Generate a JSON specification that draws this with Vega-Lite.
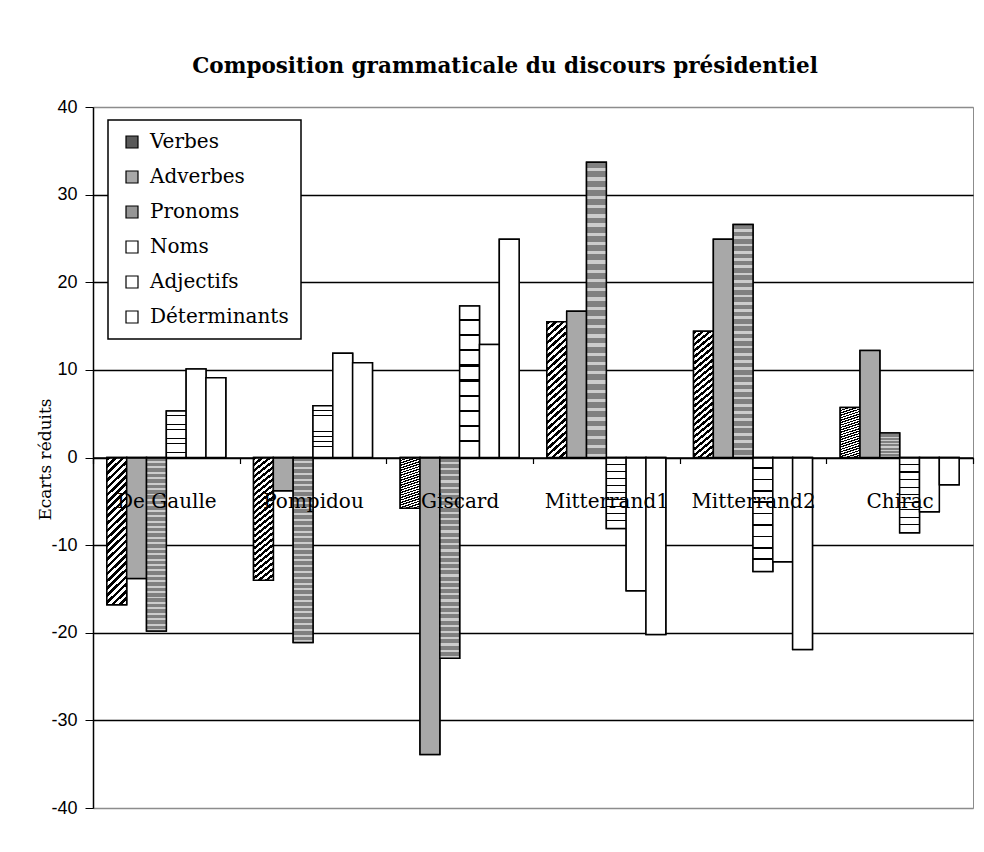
{
  "$schema": "https://vega.github.io/schema/vega-lite/v6.json",
  "width": 880,
  "height": 701,
  "autosize": "none",
  "padding": {"left": 93, "top": 107, "right": 11, "bottom": 44},
  "background": "white",
  "title": {
    "text": "Composition grammaticale du discours présidentiel",
    "font": "DejaVu Serif",
    "fontSize": 21.5,
    "fontWeight": "bold",
    "color": "black",
    "anchor": "middle",
    "offset": 21,
    "dx": -28
  },
  "data": {
    "values": [
      {"president": "De Gaulle", "categorie": "Verbes", "ecart": -16.8},
      {"president": "De Gaulle", "categorie": "Adverbes", "ecart": -13.8},
      {"president": "De Gaulle", "categorie": "Pronoms", "ecart": -19.8},
      {"president": "De Gaulle", "categorie": "Noms", "ecart": 5.3},
      {"president": "De Gaulle", "categorie": "Adjectifs", "ecart": 10.1},
      {"president": "De Gaulle", "categorie": "Déterminants", "ecart": 9.1},
      {"president": "Pompidou", "categorie": "Verbes", "ecart": -14.0},
      {"president": "Pompidou", "categorie": "Adverbes", "ecart": -3.8},
      {"president": "Pompidou", "categorie": "Pronoms", "ecart": -21.1},
      {"president": "Pompidou", "categorie": "Noms", "ecart": 5.9},
      {"president": "Pompidou", "categorie": "Adjectifs", "ecart": 11.9},
      {"president": "Pompidou", "categorie": "Déterminants", "ecart": 10.8},
      {"president": "Giscard", "categorie": "Verbes", "ecart": -5.8},
      {"president": "Giscard", "categorie": "Adverbes", "ecart": -33.9},
      {"president": "Giscard", "categorie": "Pronoms", "ecart": -22.9},
      {"president": "Giscard", "categorie": "Noms", "ecart": 17.3},
      {"president": "Giscard", "categorie": "Adjectifs", "ecart": 12.9},
      {"president": "Giscard", "categorie": "Déterminants", "ecart": 24.9},
      {"president": "Mitterrand1", "categorie": "Verbes", "ecart": 15.5},
      {"president": "Mitterrand1", "categorie": "Adverbes", "ecart": 16.7},
      {"president": "Mitterrand1", "categorie": "Pronoms", "ecart": 33.7},
      {"president": "Mitterrand1", "categorie": "Noms", "ecart": -8.1},
      {"president": "Mitterrand1", "categorie": "Adjectifs", "ecart": -15.2},
      {"president": "Mitterrand1", "categorie": "Déterminants", "ecart": -20.2},
      {"president": "Mitterrand2", "categorie": "Verbes", "ecart": 14.4},
      {"president": "Mitterrand2", "categorie": "Adverbes", "ecart": 24.9},
      {"president": "Mitterrand2", "categorie": "Pronoms", "ecart": 26.6},
      {"president": "Mitterrand2", "categorie": "Noms", "ecart": -13.0},
      {"president": "Mitterrand2", "categorie": "Adjectifs", "ecart": -11.9},
      {"president": "Mitterrand2", "categorie": "Déterminants", "ecart": -21.9},
      {"president": "Chirac", "categorie": "Verbes", "ecart": 5.7},
      {"president": "Chirac", "categorie": "Adverbes", "ecart": 12.2},
      {"president": "Chirac", "categorie": "Pronoms", "ecart": 2.8},
      {"president": "Chirac", "categorie": "Noms", "ecart": -8.6},
      {"president": "Chirac", "categorie": "Adjectifs", "ecart": -6.2},
      {"president": "Chirac", "categorie": "Déterminants", "ecart": -3.1}
    ]
  },
  "encoding": {
    "x": {
      "field": "president",
      "type": "nominal",
      "sort": ["De Gaulle", "Pompidou", "Giscard", "Mitterrand1", "Mitterrand2", "Chirac"],
      "scale": {"paddingInner": 0, "paddingOuter": 0},
      "axis": {
        "title": null,
        "orient": "bottom",
        "offset": -350.5,
        "zindex": 1,
        "grid": false,
        "domainColor": "black",
        "domainWidth": 1.5,
        "tickBand": "extent",
        "tickColor": "black",
        "tickSize": 6,
        "tickWidth": 1.2,
        "labelFont": "DejaVu Serif",
        "labelFontSize": 20,
        "labelColor": "black",
        "labelAngle": 0,
        "labelBaseline": "middle",
        "labelPadding": 38
      }
    },
    "xOffset": {
      "field": "categorie",
      "type": "nominal",
      "sort": ["Verbes", "Adverbes", "Pronoms", "Noms", "Adjectifs", "Déterminants"],
      "scale": {"paddingInner": 0, "paddingOuter": 0.7}
    },
    "y": {
      "field": "ecart",
      "type": "quantitative",
      "scale": {"domain": [-40, 40], "nice": false},
      "axis": {
        "title": "Ecarts réduits",
        "values": [-40, -30, -20, -10, 0, 10, 20, 30, 40],
        "labelExpr": "'' + datum.value",
        "grid": true,
        "gridColor": {"condition": {"test": "abs(datum.value) === 40", "value": "#8c8c8c"}, "value": "black"},
        "gridWidth": 1.3,
        "domainColor": "black",
        "domainWidth": 1.5,
        "tickColor": "black",
        "tickSize": 8,
        "labelFont": "Liberation Sans",
        "labelFontSize": 18,
        "labelColor": "black",
        "labelPadding": 8,
        "titleFont": "DejaVu Serif",
        "titleFontSize": 17,
        "titleFontWeight": "normal",
        "titleColor": "black",
        "titleAngle": -90,
        "titleX": -48,
        "titleY": 352,
        "titleAlign": "center",
        "titleBaseline": "middle"
      }
    }
  },
  "layer": [
    {
      "mark": {"type": "bar", "stroke": "black", "strokeWidth": 1.5},
      "encoding": {
        "fill": {
          "field": "categorie",
          "type": "nominal",
          "scale": {
            "domain": ["Verbes", "Adverbes", "Pronoms", "Noms", "Adjectifs", "Déterminants"],
            "range": ["#5a5a5a", "#a8a8a8", "#969696", "#ffffff", "#ffffff", "#ffffff"]
          },
          "legend": {
            "title": null,
            "orient": "none",
            "legendX": 15,
            "legendY": 13,
            "fillColor": "white",
            "strokeColor": "black",
            "padding": 12,
            "symbolType": "square",
            "symbolSize": 144,
            "symbolStrokeColor": "black",
            "symbolStrokeWidth": 1.2,
            "symbolOffset": 2,
            "labelFont": "DejaVu Serif",
            "labelFontSize": 20,
            "labelColor": "black",
            "labelOffset": 8,
            "rowPadding": 15,
            "encode": {
              "symbols": {
                "update": {
                  "stroke": {"value": "black"},
                  "strokeWidth": {"value": 1.2},
                  "fill": {
                    "condition": [
                      {"test": "datum.value === 'Verbes'", "value": {"gradient": "linear", "x1": 0, "y1": 0, "x2": 1, "y2": 1, "stops": [
                        {"offset": 0, "color": "#ffffff"}, {"offset": 0.125, "color": "#ffffff"}, {"offset": 0.125, "color": "#000000"}, {"offset": 0.25, "color": "#000000"},
                        {"offset": 0.25, "color": "#ffffff"}, {"offset": 0.375, "color": "#ffffff"}, {"offset": 0.375, "color": "#000000"}, {"offset": 0.5, "color": "#000000"},
                        {"offset": 0.5, "color": "#ffffff"}, {"offset": 0.625, "color": "#ffffff"}, {"offset": 0.625, "color": "#000000"}, {"offset": 0.75, "color": "#000000"},
                        {"offset": 0.75, "color": "#ffffff"}, {"offset": 0.875, "color": "#ffffff"}, {"offset": 0.875, "color": "#000000"}, {"offset": 1, "color": "#000000"}
                      ]}},
                      {"test": "datum.value === 'Noms'", "value": {"gradient": "linear", "x1": 0, "y1": 0, "x2": 0, "y2": 1, "stops": [
                        {"offset": 0, "color": "#ffffff"}, {"offset": 0.44, "color": "#ffffff"}, {"offset": 0.44, "color": "#000000"}, {"offset": 0.56, "color": "#000000"},
                        {"offset": 0.56, "color": "#ffffff"}, {"offset": 1, "color": "#ffffff"}
                      ]}},
                      {"test": "datum.value === 'Pronoms'", "value": {"gradient": "linear", "x1": 0, "y1": 0, "x2": 0, "y2": 1, "stops": [
                        {"offset": 0, "color": "#808080"}, {"offset": 0.2, "color": "#808080"}, {"offset": 0.2, "color": "#d0d0d0"}, {"offset": 0.33, "color": "#d0d0d0"},
                        {"offset": 0.33, "color": "#808080"}, {"offset": 0.53, "color": "#808080"}, {"offset": 0.53, "color": "#d0d0d0"}, {"offset": 0.66, "color": "#d0d0d0"},
                        {"offset": 0.66, "color": "#808080"}, {"offset": 0.86, "color": "#808080"}, {"offset": 0.86, "color": "#d0d0d0"}, {"offset": 1, "color": "#d0d0d0"}
                      ]}},
                      {"test": "datum.value === 'Adverbes'", "value": "#a8a8a8"}
                    ],
                    "value": "#ffffff"
                  }
                }
              }
            }
          }
        }
      }
    },
    {
      "mark": {"type": "bar", "stroke": "black", "strokeWidth": 1.5},
      "encoding": {
        "fill": {
          "condition": [
            {"test": "datum.categorie === 'Verbes'", "value": {"gradient": "linear", "x1": 0, "y1": 0, "x2": 0.15, "y2": 1.15, "stops": [
              {"offset": 0, "color": "#000000"}, {"offset": 0.0208, "color": "#000000"}, {"offset": 0.0208, "color": "#ffffff"}, {"offset": 0.0417, "color": "#ffffff"},
              {"offset": 0.0417, "color": "#000000"}, {"offset": 0.0625, "color": "#000000"}, {"offset": 0.0625, "color": "#ffffff"}, {"offset": 0.0833, "color": "#ffffff"},
              {"offset": 0.0833, "color": "#000000"}, {"offset": 0.1042, "color": "#000000"}, {"offset": 0.1042, "color": "#ffffff"}, {"offset": 0.125, "color": "#ffffff"},
              {"offset": 0.125, "color": "#000000"}, {"offset": 0.1458, "color": "#000000"}, {"offset": 0.1458, "color": "#ffffff"}, {"offset": 0.1667, "color": "#ffffff"},
              {"offset": 0.1667, "color": "#000000"}, {"offset": 0.1875, "color": "#000000"}, {"offset": 0.1875, "color": "#ffffff"}, {"offset": 0.2083, "color": "#ffffff"},
              {"offset": 0.2083, "color": "#000000"}, {"offset": 0.2292, "color": "#000000"}, {"offset": 0.2292, "color": "#ffffff"}, {"offset": 0.25, "color": "#ffffff"},
              {"offset": 0.25, "color": "#000000"}, {"offset": 0.2708, "color": "#000000"}, {"offset": 0.2708, "color": "#ffffff"}, {"offset": 0.2917, "color": "#ffffff"},
              {"offset": 0.2917, "color": "#000000"}, {"offset": 0.3125, "color": "#000000"}, {"offset": 0.3125, "color": "#ffffff"}, {"offset": 0.3333, "color": "#ffffff"},
              {"offset": 0.3333, "color": "#000000"}, {"offset": 0.3542, "color": "#000000"}, {"offset": 0.3542, "color": "#ffffff"}, {"offset": 0.375, "color": "#ffffff"},
              {"offset": 0.375, "color": "#000000"}, {"offset": 0.3958, "color": "#000000"}, {"offset": 0.3958, "color": "#ffffff"}, {"offset": 0.4167, "color": "#ffffff"},
              {"offset": 0.4167, "color": "#000000"}, {"offset": 0.4375, "color": "#000000"}, {"offset": 0.4375, "color": "#ffffff"}, {"offset": 0.4583, "color": "#ffffff"},
              {"offset": 0.4583, "color": "#000000"}, {"offset": 0.4792, "color": "#000000"}, {"offset": 0.4792, "color": "#ffffff"}, {"offset": 0.5, "color": "#ffffff"},
              {"offset": 0.5, "color": "#000000"}, {"offset": 0.5208, "color": "#000000"}, {"offset": 0.5208, "color": "#ffffff"}, {"offset": 0.5417, "color": "#ffffff"},
              {"offset": 0.5417, "color": "#000000"}, {"offset": 0.5625, "color": "#000000"}, {"offset": 0.5625, "color": "#ffffff"}, {"offset": 0.5833, "color": "#ffffff"},
              {"offset": 0.5833, "color": "#000000"}, {"offset": 0.6042, "color": "#000000"}, {"offset": 0.6042, "color": "#ffffff"}, {"offset": 0.625, "color": "#ffffff"},
              {"offset": 0.625, "color": "#000000"}, {"offset": 0.6458, "color": "#000000"}, {"offset": 0.6458, "color": "#ffffff"}, {"offset": 0.6667, "color": "#ffffff"},
              {"offset": 0.6667, "color": "#000000"}, {"offset": 0.6875, "color": "#000000"}, {"offset": 0.6875, "color": "#ffffff"}, {"offset": 0.7083, "color": "#ffffff"},
              {"offset": 0.7083, "color": "#000000"}, {"offset": 0.7292, "color": "#000000"}, {"offset": 0.7292, "color": "#ffffff"}, {"offset": 0.75, "color": "#ffffff"},
              {"offset": 0.75, "color": "#000000"}, {"offset": 0.7708, "color": "#000000"}, {"offset": 0.7708, "color": "#ffffff"}, {"offset": 0.7917, "color": "#ffffff"},
              {"offset": 0.7917, "color": "#000000"}, {"offset": 0.8125, "color": "#000000"}, {"offset": 0.8125, "color": "#ffffff"}, {"offset": 0.8333, "color": "#ffffff"},
              {"offset": 0.8333, "color": "#000000"}, {"offset": 0.8542, "color": "#000000"}, {"offset": 0.8542, "color": "#ffffff"}, {"offset": 0.875, "color": "#ffffff"},
              {"offset": 0.875, "color": "#000000"}, {"offset": 0.8958, "color": "#000000"}, {"offset": 0.8958, "color": "#ffffff"}, {"offset": 0.9167, "color": "#ffffff"},
              {"offset": 0.9167, "color": "#000000"}, {"offset": 0.9375, "color": "#000000"}, {"offset": 0.9375, "color": "#ffffff"}, {"offset": 0.9583, "color": "#ffffff"},
              {"offset": 0.9583, "color": "#000000"}, {"offset": 0.9792, "color": "#000000"}, {"offset": 0.9792, "color": "#ffffff"}, {"offset": 1, "color": "#ffffff"}
            ]}},
            {"test": "datum.categorie === 'Pronoms'", "value": {"gradient": "linear", "x1": 0, "y1": 0, "x2": 0, "y2": 1, "stops": [
              {"offset": 0, "color": "#808080"}, {"offset": 0.02, "color": "#808080"}, {"offset": 0.02, "color": "#cccccc"}, {"offset": 0.03125, "color": "#cccccc"},
              {"offset": 0.03125, "color": "#808080"}, {"offset": 0.05125, "color": "#808080"}, {"offset": 0.05125, "color": "#cccccc"}, {"offset": 0.0625, "color": "#cccccc"},
              {"offset": 0.0625, "color": "#808080"}, {"offset": 0.0825, "color": "#808080"}, {"offset": 0.0825, "color": "#cccccc"}, {"offset": 0.09375, "color": "#cccccc"},
              {"offset": 0.09375, "color": "#808080"}, {"offset": 0.11375, "color": "#808080"}, {"offset": 0.11375, "color": "#cccccc"}, {"offset": 0.125, "color": "#cccccc"},
              {"offset": 0.125, "color": "#808080"}, {"offset": 0.145, "color": "#808080"}, {"offset": 0.145, "color": "#cccccc"}, {"offset": 0.15625, "color": "#cccccc"},
              {"offset": 0.15625, "color": "#808080"}, {"offset": 0.17625, "color": "#808080"}, {"offset": 0.17625, "color": "#cccccc"}, {"offset": 0.1875, "color": "#cccccc"},
              {"offset": 0.1875, "color": "#808080"}, {"offset": 0.2075, "color": "#808080"}, {"offset": 0.2075, "color": "#cccccc"}, {"offset": 0.21875, "color": "#cccccc"},
              {"offset": 0.21875, "color": "#808080"}, {"offset": 0.23875, "color": "#808080"}, {"offset": 0.23875, "color": "#cccccc"}, {"offset": 0.25, "color": "#cccccc"},
              {"offset": 0.25, "color": "#808080"}, {"offset": 0.27, "color": "#808080"}, {"offset": 0.27, "color": "#cccccc"}, {"offset": 0.28125, "color": "#cccccc"},
              {"offset": 0.28125, "color": "#808080"}, {"offset": 0.30125, "color": "#808080"}, {"offset": 0.30125, "color": "#cccccc"}, {"offset": 0.3125, "color": "#cccccc"},
              {"offset": 0.3125, "color": "#808080"}, {"offset": 0.3325, "color": "#808080"}, {"offset": 0.3325, "color": "#cccccc"}, {"offset": 0.34375, "color": "#cccccc"},
              {"offset": 0.34375, "color": "#808080"}, {"offset": 0.36375, "color": "#808080"}, {"offset": 0.36375, "color": "#cccccc"}, {"offset": 0.375, "color": "#cccccc"},
              {"offset": 0.375, "color": "#808080"}, {"offset": 0.395, "color": "#808080"}, {"offset": 0.395, "color": "#cccccc"}, {"offset": 0.40625, "color": "#cccccc"},
              {"offset": 0.40625, "color": "#808080"}, {"offset": 0.42625, "color": "#808080"}, {"offset": 0.42625, "color": "#cccccc"}, {"offset": 0.4375, "color": "#cccccc"},
              {"offset": 0.4375, "color": "#808080"}, {"offset": 0.4575, "color": "#808080"}, {"offset": 0.4575, "color": "#cccccc"}, {"offset": 0.46875, "color": "#cccccc"},
              {"offset": 0.46875, "color": "#808080"}, {"offset": 0.48875, "color": "#808080"}, {"offset": 0.48875, "color": "#cccccc"}, {"offset": 0.5, "color": "#cccccc"},
              {"offset": 0.5, "color": "#808080"}, {"offset": 0.52, "color": "#808080"}, {"offset": 0.52, "color": "#cccccc"}, {"offset": 0.53125, "color": "#cccccc"},
              {"offset": 0.53125, "color": "#808080"}, {"offset": 0.55125, "color": "#808080"}, {"offset": 0.55125, "color": "#cccccc"}, {"offset": 0.5625, "color": "#cccccc"},
              {"offset": 0.5625, "color": "#808080"}, {"offset": 0.5825, "color": "#808080"}, {"offset": 0.5825, "color": "#cccccc"}, {"offset": 0.59375, "color": "#cccccc"},
              {"offset": 0.59375, "color": "#808080"}, {"offset": 0.61375, "color": "#808080"}, {"offset": 0.61375, "color": "#cccccc"}, {"offset": 0.625, "color": "#cccccc"},
              {"offset": 0.625, "color": "#808080"}, {"offset": 0.645, "color": "#808080"}, {"offset": 0.645, "color": "#cccccc"}, {"offset": 0.65625, "color": "#cccccc"},
              {"offset": 0.65625, "color": "#808080"}, {"offset": 0.67625, "color": "#808080"}, {"offset": 0.67625, "color": "#cccccc"}, {"offset": 0.6875, "color": "#cccccc"},
              {"offset": 0.6875, "color": "#808080"}, {"offset": 0.7075, "color": "#808080"}, {"offset": 0.7075, "color": "#cccccc"}, {"offset": 0.71875, "color": "#cccccc"},
              {"offset": 0.71875, "color": "#808080"}, {"offset": 0.73875, "color": "#808080"}, {"offset": 0.73875, "color": "#cccccc"}, {"offset": 0.75, "color": "#cccccc"},
              {"offset": 0.75, "color": "#808080"}, {"offset": 0.77, "color": "#808080"}, {"offset": 0.77, "color": "#cccccc"}, {"offset": 0.78125, "color": "#cccccc"},
              {"offset": 0.78125, "color": "#808080"}, {"offset": 0.80125, "color": "#808080"}, {"offset": 0.80125, "color": "#cccccc"}, {"offset": 0.8125, "color": "#cccccc"},
              {"offset": 0.8125, "color": "#808080"}, {"offset": 0.8325, "color": "#808080"}, {"offset": 0.8325, "color": "#cccccc"}, {"offset": 0.84375, "color": "#cccccc"},
              {"offset": 0.84375, "color": "#808080"}, {"offset": 0.86375, "color": "#808080"}, {"offset": 0.86375, "color": "#cccccc"}, {"offset": 0.875, "color": "#cccccc"},
              {"offset": 0.875, "color": "#808080"}, {"offset": 0.895, "color": "#808080"}, {"offset": 0.895, "color": "#cccccc"}, {"offset": 0.90625, "color": "#cccccc"},
              {"offset": 0.90625, "color": "#808080"}, {"offset": 0.92625, "color": "#808080"}, {"offset": 0.92625, "color": "#cccccc"}, {"offset": 0.9375, "color": "#cccccc"},
              {"offset": 0.9375, "color": "#808080"}, {"offset": 0.9575, "color": "#808080"}, {"offset": 0.9575, "color": "#cccccc"}, {"offset": 0.96875, "color": "#cccccc"},
              {"offset": 0.96875, "color": "#808080"}, {"offset": 0.98875, "color": "#808080"}, {"offset": 0.98875, "color": "#cccccc"}, {"offset": 1, "color": "#cccccc"}
            ]}},
            {"test": "datum.categorie === 'Noms'", "value": {"gradient": "linear", "x1": 0, "y1": 0, "x2": 0, "y2": 1, "stops": [
              {"offset": 0, "color": "#ffffff"}, {"offset": 0.085, "color": "#ffffff"}, {"offset": 0.085, "color": "#000000"}, {"offset": 0.1, "color": "#000000"},
              {"offset": 0.1, "color": "#ffffff"}, {"offset": 0.185, "color": "#ffffff"}, {"offset": 0.185, "color": "#000000"}, {"offset": 0.2, "color": "#000000"},
              {"offset": 0.2, "color": "#ffffff"}, {"offset": 0.285, "color": "#ffffff"}, {"offset": 0.285, "color": "#000000"}, {"offset": 0.3, "color": "#000000"},
              {"offset": 0.3, "color": "#ffffff"}, {"offset": 0.385, "color": "#ffffff"}, {"offset": 0.385, "color": "#000000"}, {"offset": 0.4, "color": "#000000"},
              {"offset": 0.4, "color": "#ffffff"}, {"offset": 0.485, "color": "#ffffff"}, {"offset": 0.485, "color": "#000000"}, {"offset": 0.5, "color": "#000000"},
              {"offset": 0.5, "color": "#ffffff"}, {"offset": 0.585, "color": "#ffffff"}, {"offset": 0.585, "color": "#000000"}, {"offset": 0.6, "color": "#000000"},
              {"offset": 0.6, "color": "#ffffff"}, {"offset": 0.685, "color": "#ffffff"}, {"offset": 0.685, "color": "#000000"}, {"offset": 0.7, "color": "#000000"},
              {"offset": 0.7, "color": "#ffffff"}, {"offset": 0.785, "color": "#ffffff"}, {"offset": 0.785, "color": "#000000"}, {"offset": 0.8, "color": "#000000"},
              {"offset": 0.8, "color": "#ffffff"}, {"offset": 0.885, "color": "#ffffff"}, {"offset": 0.885, "color": "#000000"}, {"offset": 0.9, "color": "#000000"},
              {"offset": 0.9, "color": "#ffffff"}, {"offset": 1, "color": "#ffffff"}
            ]}},
            {"test": "datum.categorie === 'Adverbes'", "value": "#a8a8a8"}
          ],
          "value": "#ffffff"
        }
      }
    }
  ],
  "config": {
    "view": {"stroke": "#8c8c8c", "strokeWidth": 1},
    "legend": {"strokeWidth": 1.5}
  }
}
